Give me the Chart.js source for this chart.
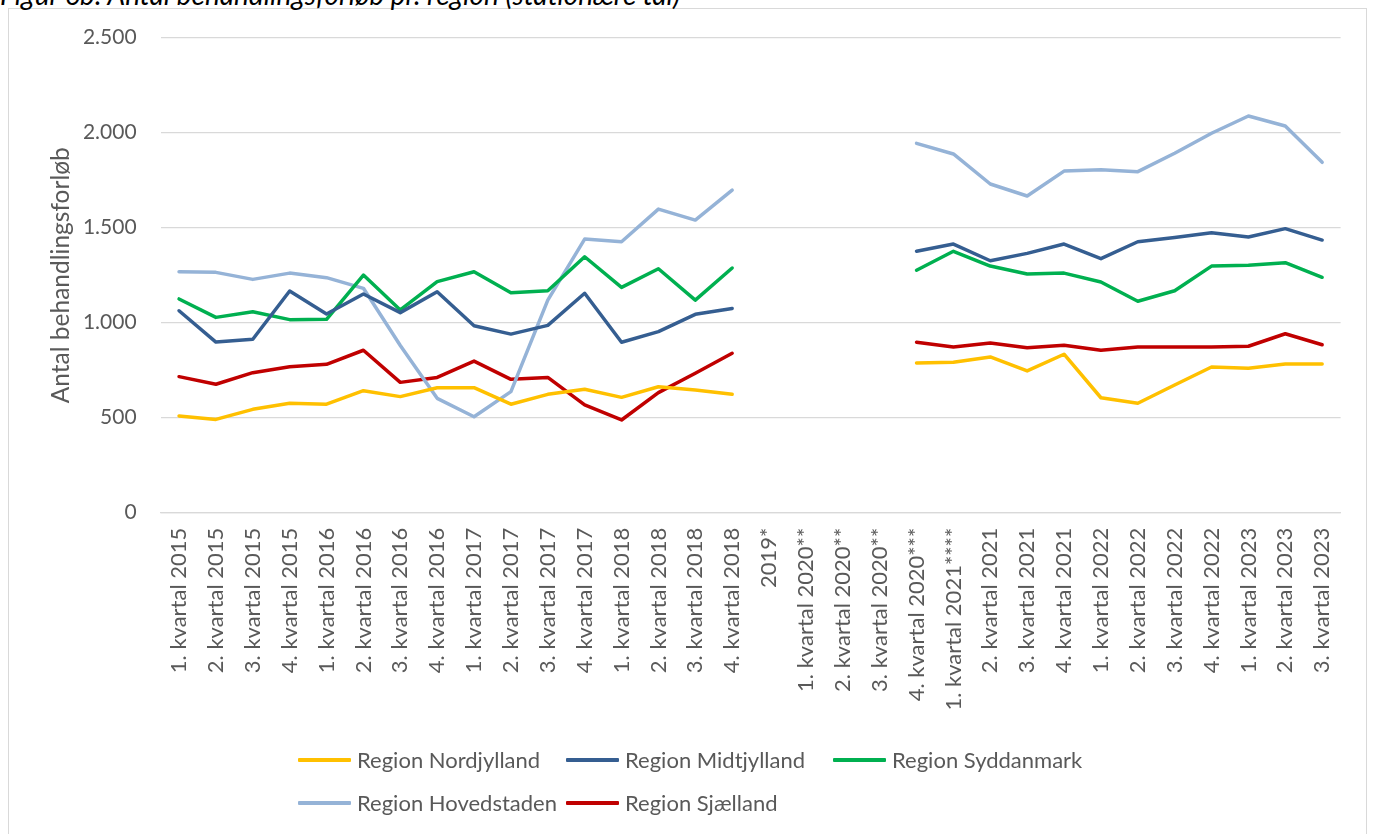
<!DOCTYPE html>
<html>
<head>
<meta charset="utf-8">
<script src="https://cdn.jsdelivr.net/npm/chart.js@4.4.1/dist/chart.umd.min.js"></script>
<style>
  html, body { margin: 0; padding: 0; background: #fff; }
  body { width: 1373px; height: 834px; position: relative; overflow: hidden; font-family: Lato, "Open Sans", sans-serif; }
  #title { position: absolute; left: 0; top: -20px; font-size: 28px; font-style: italic; color: #000; white-space: nowrap; line-height: 28px; }
  #frame { position: absolute; left: 8px; top: 8px; width: 1359px; height: 840px; border: 1px solid #d9d9d9; box-sizing: border-box; background: #fff; }
  #wrap { position: absolute; left: 0; top: 0; width: 1373px; height: 834px; }
  #legend { position: absolute; left: 0; top: 0; width: 1373px; height: 834px; pointer-events: none; }
  .li { position: absolute; display: flex; align-items: center; font-size: 22px; color: #595959; white-space: nowrap; }
  .sw { width: 53px; height: 4px; margin-right: 6px; border-radius: 1px; }
</style>
</head>
<body>
<div id="frame"></div>
<div id="title">Figur 6b: Antal behandlingsforløb pr. region (stationære tal)</div>
<div id="wrap"><canvas id="c" width="1373" height="834"></canvas></div>
<div id="legend"></div>
<script>
const categories = [
  "1. kvartal 2015","2. kvartal 2015","3. kvartal 2015","4. kvartal 2015",
  "1. kvartal 2016","2. kvartal 2016","3. kvartal 2016","4. kvartal 2016",
  "1. kvartal 2017","2. kvartal 2017","3. kvartal 2017","4. kvartal 2017",
  "1. kvartal 2018","2. kvartal 2018","3. kvartal 2018","4. kvartal 2018",
  "2019*","1. kvartal 2020**","2. kvartal 2020**","3. kvartal 2020**",
  "4. kvartal 2020***","1. kvartal 2021****","2. kvartal 2021","3. kvartal 2021",
  "4. kvartal 2021","1. kvartal 2022","2. kvartal 2022","3. kvartal 2022",
  "4. kvartal 2022","1. kvartal 2023","2. kvartal 2023","3. kvartal 2023"
];
const nordjylland = [509,491,544,576,571,642,611,658,658,571,623,650,607,663,646,623,
  null,null,null,null, 788,792,820,746,834,605,576,672,767,760,783,783];
const midtjylland = [1063,898,913,1167,1046,1151,1053,1163,984,940,986,1155,897,953,1044,1075,
  null,null,null,null, 1376,1414,1326,1365,1414,1337,1426,1449,1474,1451,1495,1435];
const syddanmark = [1125,1028,1058,1016,1018,1251,1067,1216,1268,1158,1168,1347,1186,1284,1119,1288,
  null,null,null,null, 1276,1376,1298,1256,1261,1214,1113,1168,1298,1303,1316,1239];
const hovedstaden = [1268,1265,1228,1261,1237,1181,880,602,505,637,1119,1440,1426,1598,1540,1698,
  null,null,null,null, 1944,1888,1730,1667,1798,1805,1795,1892,1997,2088,2035,1844];
const sjaelland = [716,676,737,768,781,855,686,712,798,702,712,567,488,632,734,839,
  null,null,null,null, 897,872,893,868,881,855,872,872,872,876,942,884];
const yTicks = [0,500,1000,1500,2000,2500];

const seriesNames = ["Region Nordjylland","Region Midtjylland","Region Syddanmark","Region Hovedstaden","Region Sjælland"];
const seriesData = [nordjylland, midtjylland, syddanmark, hovedstaden, sjaelland];
const seriesColors = ["#FFC000","#355E91","#00B050","#95B3D7","#C00000"];

const datasets = seriesNames.map((n,i)=>({
  label: n, data: seriesData[i], borderColor: seriesColors[i], backgroundColor: seriesColors[i],
  borderWidth: 3.5, pointRadius: 0, pointHoverRadius: 0, tension: 0, spanGaps: false,
  borderJoinStyle: 'round', borderCapStyle: 'round', fill: false
}));

const fmt = v => v.toLocaleString('da-DK');

new Chart(document.getElementById('c'), {
  type: 'line',
  data: { labels: categories, datasets: datasets },
  options: {
    responsive: false, animation: false,
    layout: { padding: { left: 0, right: 32.4, top: 37.7, bottom: 0 } },
    plugins: { legend: { display: false }, tooltip: { enabled: false } },
    scales: {
      x: {
        offset: true,
        grid: { display: false, drawTicks: false },
        border: { display: true, color: '#d9d9d9', width: 1.3 },
        ticks: { autoSkip: false, maxRotation: 90, minRotation: 90, padding: 15,
          color: '#595959', font: { family: 'Lato', size: 22 } },
        afterFit: s => { s.height = 834 - 512.7; }
      },
      y: {
        min: 0, max: 2500,
        afterBuildTicks: s => { s.ticks = yTicks.map(v => ({ value: v })); },
        grid: { color: '#d9d9d9', lineWidth: 1.3, drawTicks: false },
        border: { display: false },
        ticks: { padding: 24, color: '#595959', font: { family: 'Lato', size: 21 }, callback: v => fmt(v) },
        title: { display: true, text: 'Antal behandlingsforløb', color: '#595959',
          font: { family: 'Lato', size: 24.5 }, padding: { top: 46, bottom: 0 } },
        afterFit: s => { s.width = 160.6; }
      }
    }
  }
});

const legendPos = [[298,760],[566,760],[833,760],[298,803],[566,803]];
const lg = document.getElementById('legend');
seriesNames.forEach((n,i)=>{
  const d = document.createElement('div');
  d.className = 'li';
  d.style.left = legendPos[i][0] + 'px';
  d.style.top = (legendPos[i][1] - 14) + 'px';
  const sw = document.createElement('span');
  sw.className = 'sw'; sw.style.background = seriesColors[i];
  const t = document.createElement('span'); t.textContent = n;
  d.appendChild(sw); d.appendChild(t);
  lg.appendChild(d);
});
</script>
</body>
</html>
